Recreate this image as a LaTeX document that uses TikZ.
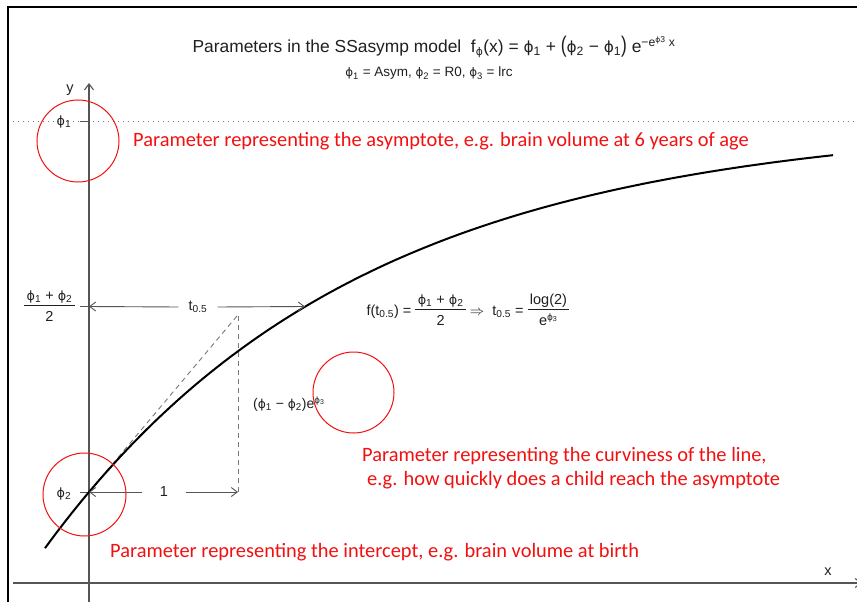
\documentclass[tikz,border=0pt]{standalone}
\usepackage{fontspec}
\usepackage{graphicx}
\setmainfont{Liberation Sans}
\newfontfamily\redfont{Carlito}
\newfontfamily\phfont[Scale=0.88]{DejaVu Sans}
\usetikzlibrary{arrows.meta}
\definecolor{txtc}{HTML}{202020}
\definecolor{axisc}{HTML}{555555}
\definecolor{redc}{HTML}{F21010}
\newcommand\ph{{\phfont\char"03D5}}
\newcommand\fracx[2]{{\setlength\arrayrulewidth{0.8pt}\begin{tabular}{@{\,}c@{\,}}\rule[-5pt]{0pt}{14pt}#1\\\hline\rule{0pt}{15pt}#2\end{tabular}}}
\newcommand\bigpar[1]{\scalebox{1}[1.3]{#1}}
\begin{document}
\begin{tikzpicture}[x=1pt,y=-1pt,
  txt/.style={text=txtc, inner sep=0pt, font=\fontsize{14.5}{17}\selectfont},
  rednote/.style={text=redc, inner sep=0pt, anchor=west, align=left, font=\redfont\fontsize{20.4}{24}\selectfont},
  ring/.style={draw=redc, line width=1pt, circle, inner sep=0pt},
  axis/.style={draw=axisc, line width=1.1pt},
  tipd/.style={-{Straight Barb[length=6pt,width=9pt]}},
  arr/.style={draw=axisc, line width=0.9pt, tipd},
  tick/.style={draw=axisc, line width=1pt},
  dashedline/.style={draw=axisc!80, dash pattern=on 5pt off 4pt, line width=0.9pt},
  asym/.style={draw=axisc!80, line width=1pt, dash pattern=on 1.2pt off 3.8pt},
  curve/.style={draw=black, line width=2pt},
  frame/.style={draw=black, line width=2pt}]
\useasboundingbox (0,0) rectangle (857,602);
\fill[white] (0,0) rectangle (857,602);

% frame
\coordinate (tl) at (8,7);
\coordinate (tr) at (858,7);
\coordinate (bl) at (8,603);
\draw[frame] (tr) -- (tl) -- (bl);

% axes
\coordinate (ybot) at (89,603);
\coordinate (ytop) at (89,83);
\coordinate (xleft) at (13,583);
\coordinate (xright) at (862,583);
\draw[axis,tipd] (ybot) -- (ytop);
\draw[axis,tipd] (xleft) -- (xright);
\node[txt] (ylab) at (70,90) {y};
\node[txt] (xlab) at (828,572) {x};

% asymptote
\coordinate (aleft) at (13,121);
\coordinate (aright) at (857,121);
\draw[asym] (aleft) -- (aright);

% key points
\coordinate (p1) at (89,121);
\coordinate (t1) at (80,121);
\coordinate (p2) at (89,492);
\coordinate (t2) at (80,492);
\coordinate (yhalf) at (89,306.5);
\coordinate (th) at (80,306.5);
\coordinate (half) at (305,306.5);
\coordinate (tan) at (238,314.8);
\coordinate (one) at (238,492);
\draw[tick] (t1) -- (p1);
\draw[tick] (t2) -- (p2);
\draw[tick] (th) -- (yhalf);

% y labels
\node[txt] (phi1) at (64,122) {\ph\textsubscript{1}};
\node[txt] (phi2) at (64,494) {\ph\textsubscript{2}};
\node[txt, anchor=base] (frac) at (49.5,311) {\fracx{\ph\textsubscript{1} + \ph\textsubscript{2}}{2}};

% dashed construction
\draw[dashedline] (p2) -- (tan);
\draw[dashedline] (one) -- (tan);

% curve
\draw[curve] plot[domain=45:833,samples=120] (\x,{121+371*exp(-0.003209*(\x-89))});

% t0.5 arrow
\node[txt, inner xsep=10pt] (tlab) at (198,307) {t\textsubscript{0.5}};
\draw[arr] (tlab.west) -- (yhalf);
\draw[arr] (tlab.east) -- (half);

% 1 arrow
\node[txt, inner xsep=18pt] (onelab) at (164,492) {1};
\draw[arr] (onelab.west) -- (p2);
\draw[arr] (onelab.east) -- (one);

% slope label
\node[txt, font=\fontsize{14}{16}\selectfont] (slope) at (289,404) {(\ph\textsubscript{1} − \ph\textsubscript{2})e\textsuperscript{\ph\textsubscript{3}}};

% right formula
\node[txt, anchor=base] (formula) at (468,315) {f(t\textsubscript{0.5}) = \fracx{\ph\textsubscript{1} + \ph\textsubscript{2}}{2} $\Rightarrow$\ \ t\textsubscript{0.5} = \fracx{log(2)}{e\textsuperscript{\ph\textsubscript{3}}}};

% title
\node[txt, anchor=base, font=\fontsize{17.4}{20}\selectfont] (title) at (434,53)
  {Parameters in the SSasymp model \ f\textsubscript{\ph}(x) = \ph\textsubscript{1} + \bigpar{(}\ph\textsubscript{2} − \ph\textsubscript{1}\bigpar{)} e\textsuperscript{−e\textsuperscript{\ph3} x}};
\node[txt, anchor=base, font=\fontsize{13.5}{16}\selectfont] (subtitle) at (429,77)
  {\ph\textsubscript{1} = Asym, \ph\textsubscript{2} = R0, \ph\textsubscript{3} = lrc};

% red circles
\node[ring, minimum size=82pt] (ring1) at (78,141) {};
\node[ring, minimum size=81pt] (ring2) at (353.5,392.5) {};
\node[ring, minimum size=83pt] (ring3) at (84.5,494.5) {};

% red notes
\node[rednote] (note1) at (133,141) {Parameter representing the asymptote, e.g. brain volume at 6 years of age};
\node[rednote] (note2) at (362,468) {Parameter representing the curviness of the line,\\\hspace*{5pt}e.g. how quickly does a child reach the asymptote};
\node[rednote] (note3) at (110,552) {Parameter representing the intercept, e.g. brain volume at birth};
\end{tikzpicture}
\end{document}
